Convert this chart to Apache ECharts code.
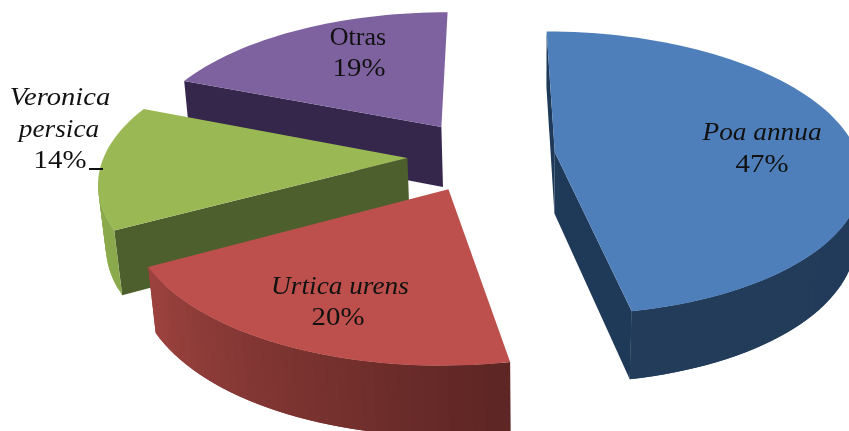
<!DOCTYPE html>
<html><head><meta charset="utf-8">
<style>html,body{margin:0;padding:0;background:#fff}#c{width:849px;height:431px}</style>
<script src="https://cdn.jsdelivr.net/npm/echarts@6/dist/echarts.min.js"></script>
</head><body><div id="c"></div>
<script>
// Chart data
const names = ['Poa annua', 'Urtica urens', 'Veronica persica', 'Otras'];
const values = [47, 20, 14, 19];
const percentLabels = ['47%', '20%', '14%', '19%'];

// Slice styles
const topColors = ['#4e7fba', '#bd504c', '#9ab955', '#7e62a0'];
const wallColors = ['#1f3a59', '#5e2624', '#4d5f2c', '#35264c'];
const rimStart = ['#1f3a5a', '#5e2624', '#8aa94c', '#5f4a80'];
const rimEnd = ['#233c5a', '#a04440', '#8fb04f', '#5f4a80'];
const paintOrder = [10, 30, 20, 0];

// 3D projection of the pie plane (perspective camera)
const cam = { vx: 491, horizon: -790, f: 1955, h: 1e5, nx: 535, ny: 3650, depth: 1.888, footX: -3, footW: 22.52 };
const pie = { cx: -0.52, cw: 105.75, rx: 16.4, ry: 15.6, explode: 4 };
const total = values.reduce((a, b) => a + b, 0);

function project(x, w, low) {
  const px = cam.vx + cam.f * x / w;
  const py = cam.horizon + cam.h / w;
  if (!low) return [px, py];
  const a = cam.depth / (w + cam.depth);
  return [px + (cam.nx - px) * a, py + (cam.ny - py) * a];
}
function hex(c) { return [1, 3, 5].map(i => parseInt(c.substr(i, 2), 16)); }
function mix(a, b, t) {
  const p = hex(a), q = hex(b);
  return 'rgb(' + p.map((v, i) => Math.round(v + (q[i] - v) * t)).join(',') + ')';
}
function poly(points, fill, z2) {
  return { type: 'polygon', shape: { points }, style: { fill }, z2, silent: true };
}

function renderSlice(params, api) {
  const i = params.dataIndex;
  const before = values.slice(0, i).reduce((a, b) => a + b, 0);
  const a0 = before / total * 2 * Math.PI;
  const a1 = (before + api.value(0)) / total * 2 * Math.PI;
  const mid = (a0 + a1) / 2;
  const ax = pie.cx + pie.explode * Math.sin(mid);
  const aw = pie.cw + pie.explode * Math.cos(mid);
  const rim = t => [ax + pie.rx * Math.sin(t), aw + pie.ry * Math.cos(t)];
  const steps = Math.ceil((a1 - a0) / (Math.PI / 90));
  const base = paintOrder[i];
  const children = [];
  // A radial wall is drawn only when its outer side faces the camera.
  const wall = (t, side) => {
    const e = rim(t);
    const nx = Math.cos(t) * side, nw = -Math.sin(t) * side;
    if ((cam.footX - ax) * nx + (cam.footW - aw) * nw <= 0) return;
    children.push(poly([project(ax, aw), project(e[0], e[1]), project(e[0], e[1], true), project(ax, aw, true)], wallColors[i], base));
  };
  wall(a0, -1);
  wall(a1, 1);
  const top = [project(ax, aw)];
  for (let s = 0; s <= steps; s++) {
    const t = a0 + (a1 - a0) * s / steps;
    const e = rim(t);
    top.push(project(e[0], e[1]));
    if (s < steps) {
      const nt = a0 + (a1 - a0) * Math.min(s + 2, steps) / steps;
      const n = rim(nt);
      const facing = (cam.footX - e[0]) * Math.sin(t) / pie.rx + (cam.footW - e[1]) * Math.cos(t) / pie.ry;
      if (facing > 0) {
        children.push(poly([project(e[0], e[1]), project(n[0], n[1]), project(n[0], n[1], true), project(e[0], e[1], true)],
          mix(rimStart[i], rimEnd[i], s / steps), base + 1 + (steps - s) / steps / 2));
      }
    }
  }
  children.push({ type: 'polygon', shape: { points: top }, style: { fill: topColors[i] }, z2: base + 2, silent: true });
  return { type: 'group', children };
}

// Label layout
const serif = '"Liberation Serif", serif';
const label = (text, x, y, italic, scaleX) => ({
  type: 'text', x, y, z: 5, scaleX,
  style: { text, x: 0, y: 0, fill: '#111', align: 'center', verticalAlign: 'middle', font: (italic ? 'italic ' : '') + '26px ' + serif }
});
const [vero, persica] = names[2].split(' ');

const chart = echarts.init(document.getElementById('c'), null, { renderer: 'canvas' });
chart.setOption({
  animation: false,
  backgroundColor: '#fff',
  series: [{
    type: 'custom',
    coordinateSystem: 'none',
    renderItem: renderSlice,
    data: values.map((v, i) => ({ name: names[i], value: [v] })),
    clip: false,
    silent: true
  }],
  graphic: { elements: [
    label(names[0], 762, 133, true, 1.05), label(percentLabels[0], 762, 165, false, 1.11),
    label(names[1], 340, 287, true, 1.05), label(percentLabels[1], 338, 318, false, 1.11),
    label(vero, 60, 98, true, 1.1), label(persica, 59, 130, true, 1.05), label(percentLabels[2], 60, 161, false, 1.11),
    label(names[3], 358, 38, false, 1), label(percentLabels[3], 359, 69, false, 1.11),
    { type: 'line', z: 5, shape: { x1: 89, y1: 169, x2: 103, y2: 169 }, style: { stroke: '#111', lineWidth: 2 } }
  ] }
});
</script></body></html>
